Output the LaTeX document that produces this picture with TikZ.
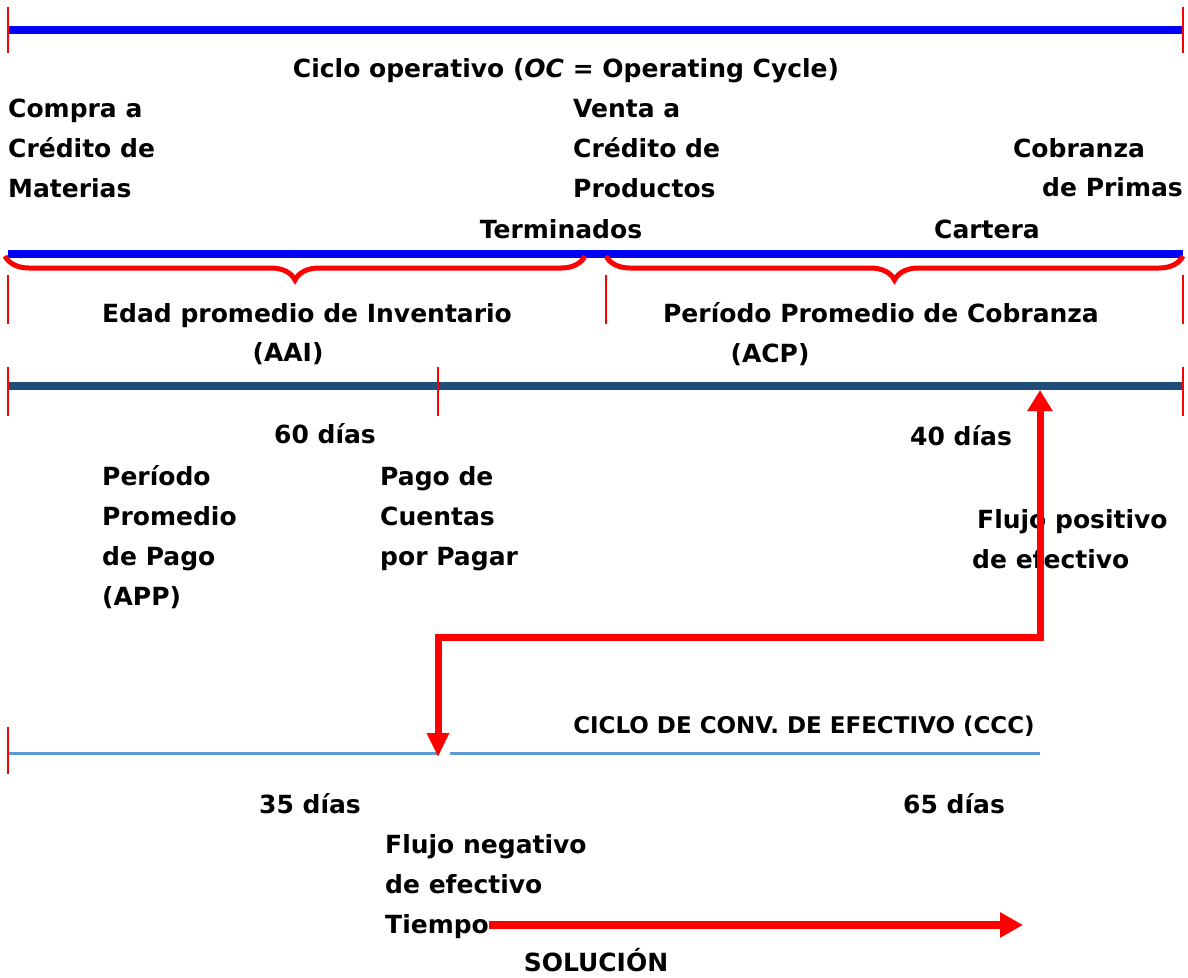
\documentclass[tikz,border=0pt]{standalone}
\usepackage{fontspec}
\setmainfont{DejaVu Sans}
\usetikzlibrary{arrows.meta, decorations.pathreplacing}

\definecolor{lineblue}{RGB}{0,0,255}
\definecolor{darkline}{RGB}{31,78,121}
\definecolor{lightline}{RGB}{91,155,213}

\begin{document}
\begin{tikzpicture}[x=1pt, y=-1pt,
    lbl/.style={inner sep=0pt, font=\fontsize{25}{30}\selectfont\bfseries},
    tick/.style={red, line width=1.5pt},
    brc/.style={red, line width=5pt, decorate, decoration={brace, mirror, amplitude=24pt}},
    flow/.style={red, line width=7pt, line join=miter}
]
\useasboundingbox (0,0) rectangle (1188,977);

% lineas de tiempo
\draw[lineblue, line width=8pt] (8,30) -- (1183,30);
\draw[lineblue, line width=8pt] (8,254) -- (1183,254);
\draw[darkline, line width=8pt] (8,386) -- (1183,386);
\draw[lightline, line width=3pt] (8,753) -- (438,753);
\draw[lightline, line width=3pt] (450,753) -- (1040,753);

% marcas
\foreach \x in {8,1183} \draw[tick] (\x,7) -- (\x,53);
\foreach \x in {8,606,1183} \draw[tick] (\x,275) -- (\x,324);
\foreach \x in {8,438,1183} \draw[tick] (\x,367) -- (\x,416);
\draw[tick] (8,727) -- (8,774);

% llaves
\draw[brc] (5,256) -- (585,256);
\draw[brc] (606,256) -- (1183,256);

\node[lbl, anchor=base] (title) at (566,77) {Ciclo operativo (\textit{OC} = Operating Cycle)};
\foreach \t [count=\i] in {Compra a, Crédito de, Materias}
    \node[lbl, anchor=base west] (buy-\i) at (8, 77+40*\i) {\t};
\foreach \t [count=\i] in {Venta a, Crédito de, Productos}
    \node[lbl, anchor=base west] (sell-\i) at (573, 77+40*\i) {\t};
\node[lbl, anchor=base] (term) at (561,238) {Terminados};
\node[lbl, anchor=base] (cob) at (1079,157) {Cobranza};
\node[lbl, anchor=base east] (prim) at (1183,196) {de Primas};
\node[lbl, anchor=base] (cart) at (987,238) {Cartera};

\node[lbl, anchor=base] (aai) at (307,322) {Edad promedio de Inventario};
\node[lbl, anchor=base] (aai-b) at (288,361) {(AAI)};
\node[lbl, anchor=base] (acp) at (881,322) {Período Promedio de Cobranza};
\node[lbl, anchor=base] (acp-b) at (770,362) {(ACP)};

\node[lbl, anchor=base] (d60) at (325,443) {60 días};
\node[lbl, anchor=base] (d40) at (961,445) {40 días};
\foreach \t [count=\i] in {Período, Promedio, de Pago, (APP)}
    \node[lbl, anchor=base west] (app-\i) at (102, 445+40*\i) {\t};
\foreach \t [count=\i] in {Pago de, Cuentas, por Pagar}
    \node[lbl, anchor=base west] (pay-\i) at (380, 445+40*\i) {\t};
\node[lbl, anchor=base west] (pos-1) at (977,528) {Flujo positivo};
\node[lbl, anchor=base west] (pos-2) at (972,568) {de efectivo};

\node[lbl, font=\fontsize{23}{26}\selectfont\bfseries, anchor=base] (ccc) at (804,733) {CICLO DE CONV. DE EFECTIVO (CCC)};
\node[lbl, anchor=base] (d35) at (310,813) {35 días};
\node[lbl, anchor=base] (d65) at (954,813) {65 días};
\foreach \t [count=\i] in {Flujo negativo, de efectivo, Tiempo}
    \node[lbl, anchor=base west] (neg-\i) at (385, 813+40*\i) {\t};
\node[lbl, anchor=base] (sol) at (596,971) {SOLUCIÓN};

% flujos
\coordinate (up-end) at (1040,390);
\coordinate (turn) at (1040,637);
\coordinate (down-end) at (438,757);
\draw[flow, {Triangle[length=21pt,width=24pt]}-{Triangle[length=24pt,width=21pt]}] (up-end) -- (turn) -| (down-end);
\coordinate (sol-end) at (1023,925);
\draw[red, line width=8pt, -{Triangle[length=23pt,width=24pt]}] (neg-3.east |- sol-end) -- (sol-end);
\end{tikzpicture}
\end{document}
